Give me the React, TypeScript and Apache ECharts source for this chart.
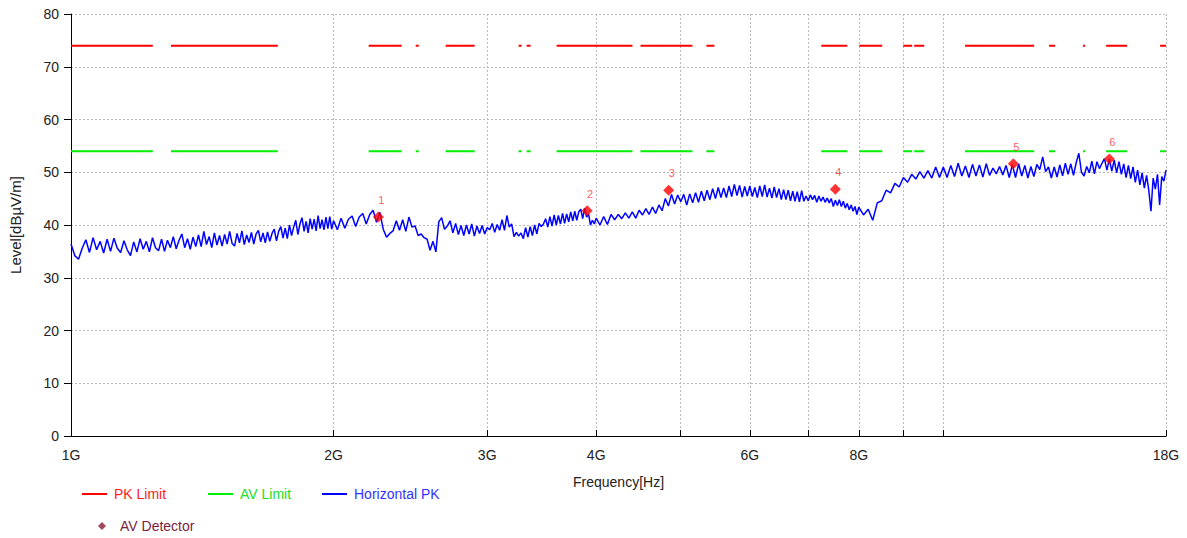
import React, { useEffect, useRef } from "react";
import * as echarts from "echarts";

const FONT = "'Liberation Sans', Arial, sans-serif";

// Frequency axis ticks / labels (GHz)
const xTicks = [1, 2, 3, 4, 5, 6, 7, 8, 9, 10, 18];
const xLabels = [1, 2, 3, 4, 6, 8, 18];

// Limits (dBµV/m)
const pkLimit = 74;
const avLimit = 54;
// drawn portions of the limit lines [start GHz, end GHz]
const limitSegments = [
  [1.0, 1.241], [1.302, 1.726], [2.194, 2.394], [2.484, 2.504], [2.688, 2.902],
  [3.259, 3.285], [3.329, 3.364], [3.603, 4.402], [4.496, 5.157], [5.351, 5.465],
  [7.246, 7.761], [8.01, 8.511], [8.996, 9.212], [9.261, 9.509], [10.59, 12.71],
  [13.22, 13.43], [14.46, 14.54], [15.37, 16.24], [17.72, 18.0],
];

// Horizontal PK sweep, levels in dBµV/m
const trace1to2G = [
  36.4, 34.2, 33.5, 35.6, 37.2, 34.8, 37.6, 35.3, 36.9, 34.7,
  37.3, 35.0, 37.5, 35.6, 34.8, 37.0, 35.3, 34.2, 36.8, 34.9,
  37.4, 35.4, 36.9, 34.9, 37.6, 35.7, 35.1, 37.3, 35.0, 37.1,
  35.7, 37.8, 35.5, 37.1, 38.3, 35.7, 37.4, 35.4, 37.7, 35.9,
  38.1, 35.9, 38.8, 36.3, 37.8, 35.7, 38.5, 36.2, 38.0, 36.0,
  38.2, 36.4, 38.8, 36.5, 36.0, 38.4, 36.6, 38.9, 36.3, 38.1,
  36.7, 38.6, 36.4, 38.3, 39.0, 36.8, 38.5, 36.6, 38.7, 36.9,
  38.4, 39.2, 37.0, 38.8, 39.7, 37.5, 39.4, 37.4, 40.0, 38.0,
  39.6, 40.9, 38.2, 40.2, 41.4, 38.8, 40.7, 38.5, 41.2, 39.2,
  41.1, 38.9, 41.8, 39.3, 41.0, 39.1, 41.5, 39.3, 41.6, 39.2, 40.8,
];
const trace2to4G = [
  40.9, 39.1, 41.3, 39.4, 41.1, 41.7, 39.7, 41.5, 42.2, 40.2,
  42.0, 42.8, 40.5, 42.4, 39.2, 37.7, 38.4, 38.9, 40.8, 39.0,
  41.0, 38.8, 41.5, 39.6, 39.8, 38.0, 38.3, 37.6, 37.3, 35.2,
  36.9, 34.9, 40.6, 41.4, 39.2, 39.8, 40.8, 38.5, 40.3, 38.2,
  39.9, 38.0, 40.0, 38.3, 40.2, 37.9, 39.8, 38.4, 39.9, 38.3,
  39.5, 39.1, 40.3, 38.6, 40.1, 39.0, 41.0, 39.0, 41.8, 39.6,
  40.2, 37.8, 38.6, 37.9, 38.5, 37.4, 39.5, 37.7, 39.7, 38.0,
  40.0, 38.3, 40.3, 39.7, 40.2, 41.2, 39.6, 41.6, 39.8, 41.9,
  40.0, 41.8, 40.2, 42.2, 40.3, 42.1, 40.6, 42.5, 40.8, 42.6,
  40.9, 42.5, 43.0, 41.2, 43.2, 41.5, 42.1, 40.0, 40.9, 40.2, 41.3,
];
const trace4to8G = [
  41.8, 40.0, 41.6, 40.1, 42.0, 41.0, 42.0, 41.2, 42.3, 41.3,
  42.5, 41.3, 42.8, 41.9, 43.1, 42.0, 43.4, 42.2, 43.8, 42.7,
  45.0, 43.6, 45.8, 44.0, 45.7, 44.4, 45.8, 43.8, 45.9, 44.2,
  46.1, 44.3, 46.4, 44.6, 46.6, 44.8, 46.9, 45.0, 47.1, 45.2,
  47.0, 45.2, 47.4, 45.4, 47.7, 45.6, 47.5, 45.3, 47.3, 45.5,
  47.4, 45.4, 47.1, 45.2, 47.4, 45.4, 47.6, 45.3, 47.0, 45.1,
  47.2, 45.2, 46.9, 44.8, 46.7, 44.8, 46.6, 44.6, 46.4, 44.5,
  46.3, 44.4, 46.5, 44.5, 45.5, 44.6, 45.7, 44.8, 45.6, 44.3,
  45.5, 44.5, 45.3, 44.3, 45.1, 44.2, 45.0, 43.5, 44.7, 43.7,
  44.8, 43.5, 44.5, 43.2, 44.1, 42.9, 43.8, 42.6, 43.5, 42.0, 43.4,
];
const trace8to18G = [
  43.3, 41.9, 43.0, 40.9, 44.2, 44.6, 46.6, 46.1, 47.9, 47.2,
  49.0, 48.1, 49.6, 48.7, 50.1, 48.9, 50.3, 48.9, 51.0, 49.0,
  51.0, 49.0, 51.3, 49.2, 51.7, 49.3, 51.2, 49.0, 51.5, 49.3,
  51.4, 49.1, 51.6, 49.4, 50.8, 49.7, 51.1, 49.5, 51.3, 49.0,
  51.4, 49.0, 51.6, 49.3, 51.3, 48.9, 51.1, 49.2, 51.5, 50.5,
  52.9, 50.1, 51.0, 48.9, 51.0, 49.1, 51.4, 49.3, 51.7, 49.6,
  51.6, 49.4, 51.8, 53.6, 50.0, 49.3, 51.1, 49.9, 52.1, 49.7,
  52.0, 50.7, 51.7, 52.6, 50.4, 52.5, 50.2, 52.3, 49.9, 52.0,
  49.6, 51.6, 49.0, 51.3, 48.8, 51.0, 48.1, 50.4, 47.6, 49.9,
  47.0, 49.4, 46.6, 42.6, 48.9, 46.8, 49.6, 43.8, 49.2, 48.3, 50.4,
];
// sweep sections: start frequency (GHz), frequency step (GHz), levels
const sweeps = [
  { start: 1, step: 0.01, levels: trace1to2G },
  { start: 2, step: 0.02, levels: trace2to4G },
  { start: 4, step: 0.04, levels: trace4to8G },
  { start: 8, step: 0.1, levels: trace8to18G },
];

// AV detector final measurements
const detFreqs = [2.251, 3.906, 4.844, 7.519, 12.03, 15.5];
const detLevels = [41.5, 42.7, 46.6, 46.8, 51.6, 52.5];
const detLabels = ["1", "2", "3", "4", "5", "6"];

export default function App() {
  const ref = useRef<HTMLDivElement>(null);
  useEffect(() => {
    if (!ref.current) return;
    const chart = echarts.init(ref.current, null, { renderer: "svg" });

    const limitData = (lvl: number) => {
      const d: any[] = [];
      limitSegments.forEach((s, i) => {
        if (i > 0) d.push(["-", "-"]);
        d.push([s[0], lvl], [s[1], lvl]);
      });
      return d;
    };

    const traceData: number[][] = [];
    sweeps.forEach((sw, si) => {
      sw.levels.forEach((v, i) => {
        if (si > 0 && i === 0) return;
        traceData.push([+(sw.start + sw.step * i).toFixed(4), v]);
      });
    });

    const detData = detFreqs.map((f, i) => [f, detLevels[i]]);

    const legendBase = (left: number, top: number) => ({
      left,
      top,
      orient: "horizontal" as const,
      itemWidth: 25,
      itemHeight: 2,
      icon: "rect",
      selectedMode: false,
      textStyle: { fontFamily: FONT, fontSize: 14, lineHeight: 16, padding: [0, 0, 0, 2] },
    });

    chart.setOption({
      animation: false,
      backgroundColor: "#ffffff",
      grid: { left: 70, right: 21, top: 14, bottom: 102, containLabel: false },
      legend: [
        { ...legendBase(77, 481), data: [{ name: "PK Limit", textStyle: { color: "#FF2020" } }] },
        { ...legendBase(203, 481), data: [{ name: "AV Limit", textStyle: { color: "#22DD22" } }] },
        { ...legendBase(317, 481), data: [{ name: "Horizontal PK", textStyle: { color: "#3333FF" } }] },
        {
          left: 93,
          top: 513,
          itemWidth: 8,
          itemHeight: 8,
          icon: "diamond",
          selectedMode: false,
          textStyle: { fontFamily: FONT, fontSize: 14, lineHeight: 16, padding: [0, 0, 0, 9] },
          data: [{ name: "AV Detector", itemStyle: { color: "#8B1A3A" }, textStyle: { color: "#7A1E3C" } }],
        },
      ],
      xAxis: {
        type: "log",
        logBase: 10,
        min: 1,
        max: 18,
        name: "Frequency[Hz]",
        nameLocation: "middle",
        nameGap: 39,
        nameTextStyle: { fontFamily: FONT, fontSize: 14, color: "#222" },
        axisLine: { show: true, lineStyle: { color: "#000", width: 1 } },
        axisTick: { show: true, inside: true, length: 6, customValues: xTicks, lineStyle: { color: "#000" } },
        axisLabel: {
          customValues: xLabels,
          formatter: (v: number) => Math.round(v) + "G",
          fontFamily: FONT,
          fontSize: 14,
          color: "#222",
          margin: 12,
        },
        splitLine: { show: true, lineStyle: { type: [2, 2], color: "#BBBBBB", width: 1 } },
        minorTick: { show: false },
        minorSplitLine: { show: false },
      },
      yAxis: {
        type: "value",
        min: 0,
        max: 80,
        interval: 10,
        name: "Level[dBµV/m]",
        nameLocation: "middle",
        nameGap: 48,
        nameRotate: 90,
        nameTextStyle: { fontFamily: FONT, fontSize: 15, color: "#222" },
        axisLine: { show: true, lineStyle: { color: "#000", width: 1 } },
        axisTick: { show: true, length: 7, lineStyle: { color: "#000" } },
        axisLabel: { fontFamily: FONT, fontSize: 14, color: "#222", margin: 12 },
        splitLine: { show: true, lineStyle: { type: [2, 2], color: "#BBBBBB", width: 1 } },
      },
      series: [
        {
          name: "PK Limit",
          type: "line",
          data: limitData(pkLimit),
          showSymbol: false,
          symbol: "none",
          connectNulls: false,
          lineStyle: { color: "#FF0000", width: 2 },
          itemStyle: { color: "#FF0000" },
          z: 2,
        },
        {
          name: "AV Limit",
          type: "line",
          data: limitData(avLimit),
          showSymbol: false,
          symbol: "none",
          connectNulls: false,
          lineStyle: { color: "#00EE00", width: 2 },
          itemStyle: { color: "#00EE00" },
          z: 2,
        },
        {
          name: "Horizontal PK",
          type: "line",
          data: traceData,
          showSymbol: false,
          symbol: "none",
          lineStyle: { color: "#0000FF", width: 1.5 },
          itemStyle: { color: "#0000FF" },
          z: 3,
        },
        {
          name: "AV Detector",
          type: "scatter",
          data: detData,
          symbol: "diamond",
          symbolSize: 11,
          itemStyle: { color: "#FF0000" },
          label: {
            show: true,
            position: "top",
            distance: 6,
            offset: [3, 0],
            formatter: (p: any) => detLabels[p.dataIndex],
            color: "#FF3030",
            fontFamily: FONT,
            fontSize: 11,
          },
          z: 5,
        },
      ],
    });
    return () => chart.dispose();
  }, []);
  return (
    <div
      ref={ref}
      style={{ position: "absolute", left: 0, top: 0, width: 1187, height: 538, background: "#fff" }}
    />
  );
}
